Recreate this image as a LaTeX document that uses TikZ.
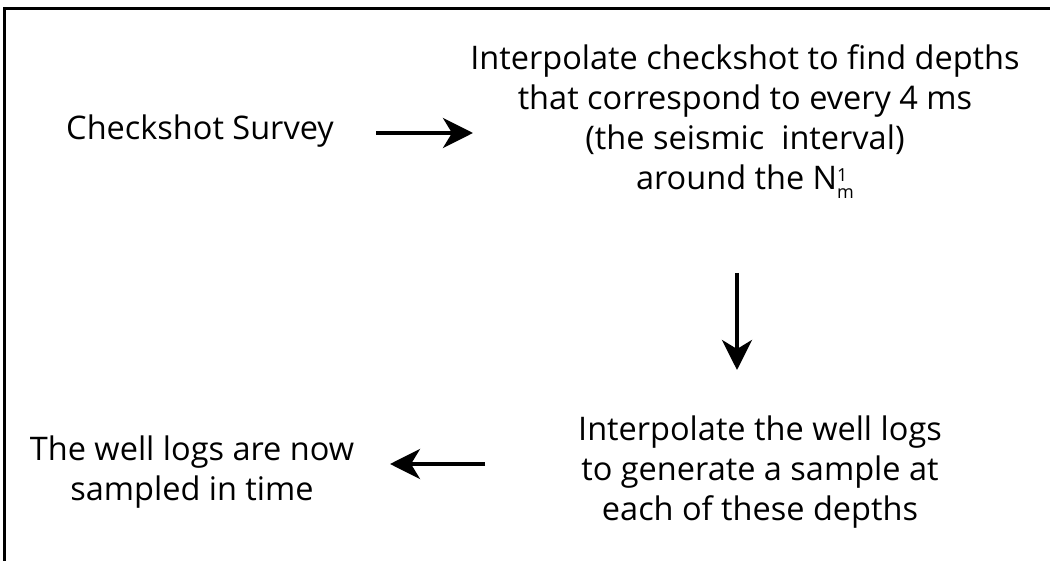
\documentclass[tikz,border=0pt]{standalone}
\usepackage{fontspec}
\setmainfont{Open Sans}
\usetikzlibrary{arrows.meta}
\newcommand{\supsubstack}[2]{\smash{\raisebox{-1.5pt}{\fontsize{18}{17}\selectfont\begin{tabular}[c]{@{}l@{}}#1\\#2\end{tabular}}}}
\begin{document}
\begin{tikzpicture}[x=1pt,y=-1pt,
  txt/.style={align=center,font=\fontsize{32.5}{40}\selectfont,inner sep=0pt},
  arr/.style={line width=4pt,-{Stealth[length=30pt,width=30pt,inset=9pt]}}]
\useasboundingbox (0,0) rectangle (1050,561);
\draw[line width=3.5pt] (4.5,561) -- (4.5,8.5) -- (1050,8.5);
\node[txt] (cs) at (200,131) {Checkshot Survey};
\node[txt] (interp) at (745,117) {Interpolate checkshot to find depths\\that correspond to every 4 ms\\(the seismic\ \ interval)\\around the N\supsubstack{1}{m}};
\node[txt] (wl) at (760,472) {Interpolate the well logs\\to generate a sample at\\each of these depths};
\node[txt] (now) at (192,472) {The well logs are now\\sampled in time};
\coordinate (a1s) at (376,133);
\coordinate (a1e) at (473,133);
\coordinate (a2s) at (737,273);
\coordinate (a2e) at (737,370);
\coordinate (a3s) at (485,464);
\coordinate (a3e) at (390,464);
\draw[arr] (a1s) -- (a1e);
\draw[arr] (a2s) -- (a2e);
\draw[arr] (a3s) -- (a3e);
\end{tikzpicture}
\end{document}
